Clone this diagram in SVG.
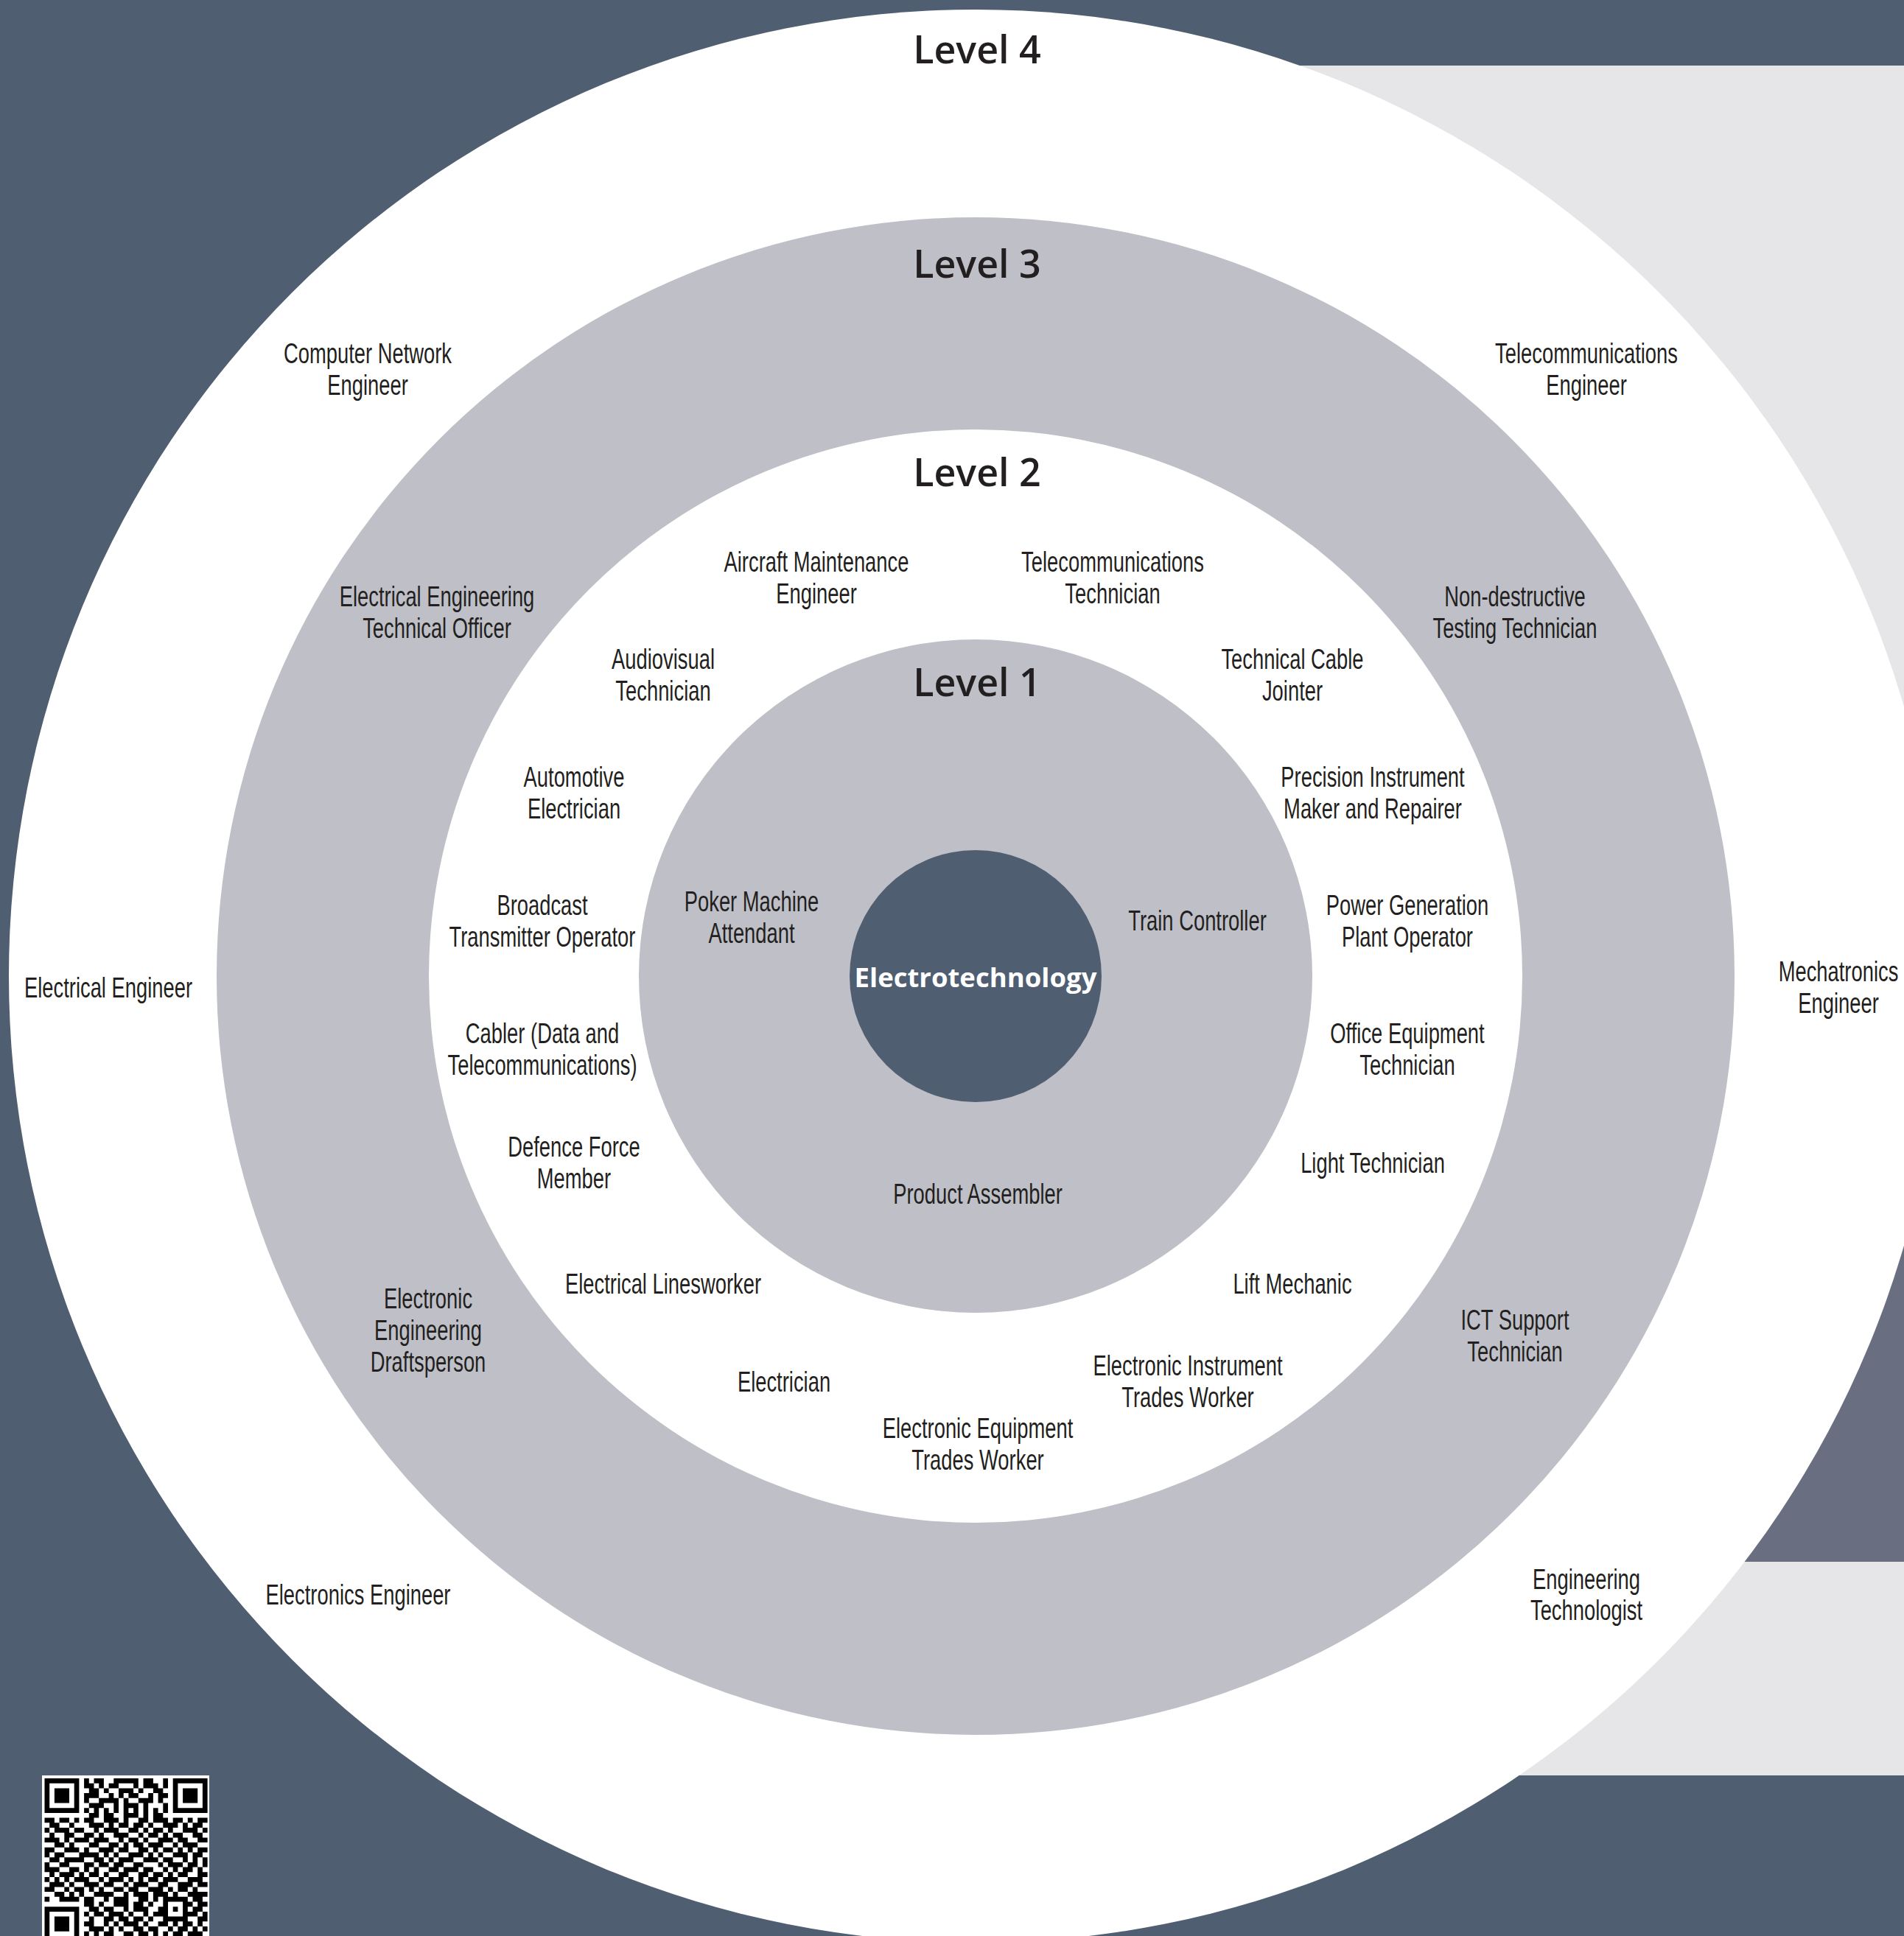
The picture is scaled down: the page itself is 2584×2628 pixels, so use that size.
<svg xmlns="http://www.w3.org/2000/svg" width="2584" height="2628" viewBox="0 0 2584 2628">
<style>
.lbl{font-family:"Liberation Sans",Arial,sans-serif;font-size:38px;fill:#231f20;text-anchor:middle}
.lvl{font-family:"Open Sans","Liberation Sans",sans-serif;font-weight:600;font-size:52px;fill:#231f20;text-anchor:middle}
.core{font-family:"Open Sans","Liberation Sans",sans-serif;font-weight:700;font-size:36.5px;fill:#ffffff;text-anchor:middle}
</style>
<g id="background">
<rect x="0" y="0" width="2584" height="2628" fill="#4f5e70"/>
<rect x="1700" y="89" width="884" height="2321" fill="#e6e6e9"/>
<rect x="2300" y="1500" width="284" height="620" fill="#696e80"/>
</g>
<g id="rings">
<circle id="ring-level4" cx="1324" cy="1325" r="1312" fill="#ffffff"/>
<circle id="ring-level3" cx="1324" cy="1325" r="1030" fill="#bebfc7"/>
<circle id="ring-level2" cx="1324" cy="1325" r="742" fill="#ffffff"/>
<circle id="ring-level1" cx="1324" cy="1325" r="457" fill="#bebfc7"/>
</g>
<g id="core">
<circle cx="1324" cy="1325" r="171" fill="#4f5e70"/>
<text class="core" x="1324" y="1340">Electrotechnology</text>
</g>
<g id="level-titles">
<text class="lvl" x="1326" y="86">Level 4</text>
<text class="lvl" x="1326" y="377">Level 3</text>
<text class="lvl" x="1326" y="660">Level 2</text>
<text class="lvl" x="1326" y="945">Level 1</text>
</g>
<g id="connectors"/>
<g id="level4-nodes">
<g id="computer-network-engineer"><text class="lbl" transform="translate(499 493) scale(0.72 1)"><tspan x="0" y="0">Computer Network</tspan><tspan x="0" y="43">Engineer</tspan></text></g>
<g id="telecommunications-engineer"><text class="lbl" transform="translate(2153 493) scale(0.72 1)"><tspan x="0" y="0">Telecommunications</tspan><tspan x="0" y="43">Engineer</tspan></text></g>
<g id="electrical-engineer"><text class="lbl" transform="translate(147 1354) scale(0.72 1)"><tspan x="0" y="0">Electrical Engineer</tspan></text></g>
<g id="mechatronics-engineer"><text class="lbl" transform="translate(2495 1332) scale(0.72 1)"><tspan x="0" y="0">Mechatronics</tspan><tspan x="0" y="43">Engineer</tspan></text></g>
<g id="electronics-engineer"><text class="lbl" transform="translate(486 2178) scale(0.72 1)"><tspan x="0" y="0">Electronics Engineer</tspan></text></g>
<g id="engineering-technologist"><text class="lbl" transform="translate(2153 2157) scale(0.72 1)"><tspan x="0" y="0">Engineering</tspan><tspan x="0" y="42">Technologist</tspan></text></g>
</g>
<g id="level3-nodes">
<g id="electrical-engineering-technical-officer"><text class="lbl" transform="translate(593 823) scale(0.72 1)"><tspan x="0" y="0">Electrical Engineering</tspan><tspan x="0" y="43">Technical Officer</tspan></text></g>
<g id="non-destructive-testing-technician"><text class="lbl" transform="translate(2056 823) scale(0.72 1)"><tspan x="0" y="0">Non-destructive</tspan><tspan x="0" y="43">Testing Technician</tspan></text></g>
<g id="electronic-engineering-draftsperson"><text class="lbl" transform="translate(581 1776) scale(0.72 1)"><tspan x="0" y="0">Electronic</tspan><tspan x="0" y="43">Engineering</tspan><tspan x="0" y="86">Draftsperson</tspan></text></g>
<g id="ict-support-technician"><text class="lbl" transform="translate(2056 1805) scale(0.72 1)"><tspan x="0" y="0">ICT Support</tspan><tspan x="0" y="43">Technician</tspan></text></g>
</g>
<g id="level2-nodes">
<g id="aircraft-maintenance-engineer"><text class="lbl" transform="translate(1108 776) scale(0.72 1)"><tspan x="0" y="0">Aircraft Maintenance</tspan><tspan x="0" y="43">Engineer</tspan></text></g>
<g id="telecommunications-technician"><text class="lbl" transform="translate(1510 776) scale(0.72 1)"><tspan x="0" y="0">Telecommunications</tspan><tspan x="0" y="43">Technician</tspan></text></g>
<g id="audiovisual-technician"><text class="lbl" transform="translate(900 908) scale(0.72 1)"><tspan x="0" y="0">Audiovisual</tspan><tspan x="0" y="43">Technician</tspan></text></g>
<g id="technical-cable-jointer"><text class="lbl" transform="translate(1754 908) scale(0.72 1)"><tspan x="0" y="0">Technical Cable</tspan><tspan x="0" y="43">Jointer</tspan></text></g>
<g id="automotive-electrician"><text class="lbl" transform="translate(779 1068) scale(0.72 1)"><tspan x="0" y="0">Automotive</tspan><tspan x="0" y="43">Electrician</tspan></text></g>
<g id="precision-instrument-maker"><text class="lbl" transform="translate(1863 1068) scale(0.72 1)"><tspan x="0" y="0">Precision Instrument</tspan><tspan x="0" y="43">Maker and Repairer</tspan></text></g>
<g id="broadcast-transmitter-operator"><text class="lbl" transform="translate(736 1242) scale(0.72 1)"><tspan x="0" y="0">Broadcast</tspan><tspan x="0" y="43">Transmitter Operator</tspan></text></g>
<g id="power-generation-plant-operator"><text class="lbl" transform="translate(1910 1242) scale(0.72 1)"><tspan x="0" y="0">Power Generation</tspan><tspan x="0" y="43">Plant Operator</tspan></text></g>
<g id="cabler"><text class="lbl" transform="translate(736 1416) scale(0.72 1)"><tspan x="0" y="0">Cabler (Data and</tspan><tspan x="0" y="43">Telecommunications)</tspan></text></g>
<g id="office-equipment-technician"><text class="lbl" transform="translate(1910 1416) scale(0.72 1)"><tspan x="0" y="0">Office Equipment</tspan><tspan x="0" y="43">Technician</tspan></text></g>
<g id="defence-force-member"><text class="lbl" transform="translate(779 1570) scale(0.72 1)"><tspan x="0" y="0">Defence Force</tspan><tspan x="0" y="43">Member</tspan></text></g>
<g id="light-technician"><text class="lbl" transform="translate(1863 1592) scale(0.72 1)"><tspan x="0" y="0">Light Technician</tspan></text></g>
<g id="electrical-linesworker"><text class="lbl" transform="translate(900 1756) scale(0.72 1)"><tspan x="0" y="0">Electrical Linesworker</tspan></text></g>
<g id="lift-mechanic"><text class="lbl" transform="translate(1754 1756) scale(0.72 1)"><tspan x="0" y="0">Lift Mechanic</tspan></text></g>
<g id="electrician"><text class="lbl" transform="translate(1064 1889) scale(0.72 1)"><tspan x="0" y="0">Electrician</tspan></text></g>
<g id="electronic-instrument-trades-worker"><text class="lbl" transform="translate(1612 1867) scale(0.72 1)"><tspan x="0" y="0">Electronic Instrument</tspan><tspan x="0" y="43">Trades Worker</tspan></text></g>
<g id="electronic-equipment-trades-worker"><text class="lbl" transform="translate(1327 1952) scale(0.72 1)"><tspan x="0" y="0">Electronic Equipment</tspan><tspan x="0" y="43">Trades Worker</tspan></text></g>
</g>
<g id="level1-nodes">
<g id="poker-machine-attendant"><text class="lbl" transform="translate(1020 1237) scale(0.72 1)"><tspan x="0" y="0">Poker Machine</tspan><tspan x="0" y="43">Attendant</tspan></text></g>
<g id="train-controller"><text class="lbl" transform="translate(1625 1263) scale(0.72 1)"><tspan x="0" y="0">Train Controller</tspan></text></g>
<g id="product-assembler"><text class="lbl" transform="translate(1327 1634) scale(0.72 1)"><tspan x="0" y="0">Product Assembler</tspan></text></g>
</g>
<g id="qr-code">
<rect x="57" y="2410" width="227" height="230" fill="#ffffff"/>
<path fill="#000000" transform="translate(60.5 2414) scale(6.7)" d="M0 0h7v1H0zM8 0h1v1H8zM10 0h2v1H10zM14 0h5v1H14zM20 0h2v1H20zM24 0h1v1H24zM26 0h7v1H26z
M0 1h1v1H0zM6 1h1v1H6zM8 1h2v1H8zM11 1h1v1H11zM13 1h2v1H13zM18 1h1v1H18zM20 1h3v1H20zM24 1h1v1H24zM26 1h1v1H26zM32 1h1v1H32z
M0 2h1v1H0zM2 2h3v1H2zM6 2h1v1H6zM9 2h2v1H9zM12 2h1v1H12zM15 2h3v1H15zM19 2h1v1H19zM22 2h2v1H22zM26 2h1v1H26zM28 2h3v1H28zM32 2h1v1H32z
M0 3h1v1H0zM2 3h3v1H2zM6 3h1v1H6zM8 3h3v1H8zM13 3h1v1H13zM15 3h1v1H15zM17 3h2v1H17zM21 3h1v1H21zM23 3h2v1H23zM26 3h1v1H26zM28 3h3v1H28zM32 3h1v1H32z
M0 4h1v1H0zM2 4h3v1H2zM6 4h1v1H6zM8 4h1v1H8zM11 4h4v1H11zM16 4h1v1H16zM19 4h3v1H19zM23 4h1v1H23zM26 4h1v1H26zM28 4h3v1H28zM32 4h1v1H32z
M0 5h1v1H0zM6 5h1v1H6zM9 5h3v1H9zM14 5h1v1H14zM16 5h3v1H16zM20 5h1v1H20zM24 5h1v1H24zM26 5h1v1H26zM32 5h1v1H32z
M0 6h7v1H0zM8 6h1v1H8zM10 6h1v1H10zM12 6h1v1H12zM14 6h1v1H14zM16 6h1v1H16zM18 6h1v1H18zM20 6h1v1H20zM22 6h1v1H22zM24 6h1v1H24zM26 6h7v1H26z
M9 7h2v1H9zM12 7h2v1H12zM16 7h3v1H16zM20 7h1v1H20zM22 7h2v1H22z
M0 8h2v1H0zM3 8h2v1H3zM6 8h1v1H6zM8 8h2v1H8zM12 8h3v1H12zM16 8h1v1H16zM19 8h2v1H19zM22 8h3v1H22zM26 8h2v1H26zM29 8h1v1H29zM31 8h2v1H31z
M1 9h2v1H1zM5 9h1v1H5zM9 9h3v1H9zM13 9h1v1H13zM15 9h2v1H15zM18 9h2v1H18zM21 9h1v1H21zM24 9h3v1H24zM28 9h1v1H28zM30 9h2v1H30z
M0 10h1v1H0zM2 10h3v1H2zM6 10h2v1H6zM10 10h1v1H10zM12 10h3v1H12zM17 10h2v1H17zM20 10h1v1H20zM22 10h2v1H22zM25 10h1v1H25zM28 10h3v1H28zM32 10h1v1H32z
M1 11h1v1H1zM4 11h2v1H4zM8 11h2v1H8zM11 11h1v1H11zM14 11h3v1H14zM19 11h1v1H19zM21 11h2v1H21zM24 11h1v1H24zM26 11h2v1H26zM30 11h2v1H30z
M0 12h3v1H0zM4 12h1v1H4zM6 12h3v1H6zM10 12h3v1H10zM15 12h1v1H15zM17 12h2v1H17zM20 12h1v1H20zM23 12h3v1H23zM27 12h2v1H27zM31 12h2v1H31z
M2 13h2v1H2zM5 13h1v1H5zM9 13h2v1H9zM13 13h2v1H13zM16 13h1v1H16zM18 13h2v1H18zM21 13h3v1H21zM26 13h1v1H26zM28 13h3v1H28z
M0 14h2v1H0zM4 14h3v1H4zM8 14h1v1H8zM11 14h3v1H11zM15 14h2v1H15zM19 14h2v1H19zM22 14h1v1H22zM24 14h2v1H24zM27 14h1v1H27zM29 14h1v1H29zM31 14h2v1H31z
M0 15h1v1H0zM2 15h2v1H2zM7 15h4v1H7zM12 15h1v1H12zM14 15h1v1H14zM17 15h3v1H17zM21 15h1v1H21zM23 15h1v1H23zM26 15h3v1H26zM30 15h2v1H30z
M1 16h2v1H1zM4 16h4v1H4zM10 16h2v1H10zM13 16h1v1H13zM15 16h3v1H15zM20 16h3v1H20zM24 16h2v1H24zM28 16h1v1H28zM30 16h1v1H30zM32 16h1v1H32z
M0 17h1v1H0zM3 17h2v1H3zM8 17h2v1H8zM11 17h2v1H11zM14 17h2v1H14zM18 17h2v1H18zM23 17h1v1H23zM25 17h3v1H25zM29 17h2v1H29zM32 17h1v1H32z
M0 18h3v1H0zM5 18h2v1H5zM8 18h1v1H8zM10 18h1v1H10zM13 18h2v1H13zM16 18h3v1H16zM20 18h2v1H20zM24 18h1v1H24zM26 18h1v1H26zM28 18h2v1H28zM31 18h1v1H31z
M1 19h1v1H1zM3 19h3v1H3zM7 19h1v1H7zM9 19h2v1H9zM12 19h1v1H12zM15 19h2v1H15zM19 19h2v1H19zM22 19h2v1H22zM25 19h1v1H25zM27 19h2v1H27zM31 19h2v1H31z
M0 20h1v1H0zM2 20h1v1H2zM4 20h1v1H4zM6 20h3v1H6zM11 20h1v1H11zM13 20h3v1H13zM17 20h1v1H17zM19 20h1v1H19zM21 20h2v1H21zM24 20h3v1H24zM29 20h3v1H29z
M1 21h3v1H1zM5 21h1v1H5zM8 21h3v1H8zM12 21h2v1H12zM16 21h1v1H16zM18 21h3v1H18zM23 21h2v1H23zM27 21h3v1H27zM31 21h2v1H31z
M0 22h2v1H0zM4 22h1v1H4zM6 22h2v1H6zM9 22h1v1H9zM11 22h1v1H11zM14 22h2v1H14zM17 22h2v1H17zM21 22h3v1H21zM25 22h1v1H25zM27 22h2v1H27zM30 22h1v1H30z
M2 23h2v1H2zM5 23h1v1H5zM7 23h1v1H7zM10 23h4v1H10zM16 23h1v1H16zM18 23h3v1H18zM22 23h3v1H22zM26 23h1v1H26zM29 23h4v1H29z
M0 24h1v1H0zM3 24h4v1H3zM8 24h2v1H8zM12 24h1v1H12zM14 24h3v1H14zM19 24h2v1H19zM22 24h1v1H22zM24 24h5v1H24zM30 24h2v1H30z
M8 25h2v1H8zM11 25h1v1H11zM14 25h3v1H14zM18 25h2v1H18zM21 25h1v1H21zM24 25h1v1H24zM28 25h2v1H28zM31 25h2v1H31z
M0 26h7v1H0zM9 26h2v1H9zM12 26h2v1H12zM16 26h1v1H16zM18 26h3v1H18zM23 26h2v1H23zM26 26h1v1H26zM28 26h1v1H28zM30 26h2v1H30z
M0 27h1v1H0zM6 27h1v1H6zM8 27h1v1H8zM10 27h2v1H10zM13 27h3v1H13zM17 27h1v1H17zM20 27h1v1H20zM22 27h3v1H22zM28 27h3v1H28zM32 27h1v1H32z
M0 28h1v1H0zM2 28h3v1H2zM6 28h1v1H6zM9 28h1v1H9zM12 28h2v1H12zM15 28h2v1H15zM18 28h2v1H18zM21 28h1v1H21zM24 28h5v1H24zM31 28h2v1H31z
M0 29h1v1H0zM2 29h3v1H2zM6 29h1v1H6zM8 29h2v1H8zM12 29h1v1H12zM14 29h1v1H14zM16 29h3v1H16zM20 29h1v1H20zM23 29h2v1H23zM26 29h1v1H26zM28 29h2v1H28zM31 29h1v1H31z
M0 30h1v1H0zM2 30h3v1H2zM6 30h1v1H6zM9 30h3v1H9zM13 30h1v1H13zM15 30h1v1H15zM18 30h2v1H18zM21 30h2v1H21zM25 30h1v1H25zM27 30h2v1H27zM30 30h1v1H30zM32 30h1v1H32z
M0 31h1v1H0zM6 31h1v1H6zM8 31h1v1H8zM10 31h1v1H10zM12 31h2v1H12zM16 31h2v1H16zM19 31h2v1H19zM22 31h1v1H22zM24 31h1v1H24zM26 31h2v1H26zM29 31h3v1H29z
M0 32h7v1H0zM9 32h1v1H9zM11 32h2v1H11zM14 32h2v1H14zM17 32h2v1H17zM21 32h3v1H21zM25 32h1v1H25zM28 32h1v1H28zM31 32h2v1H31z"/>
</g>
</svg>
